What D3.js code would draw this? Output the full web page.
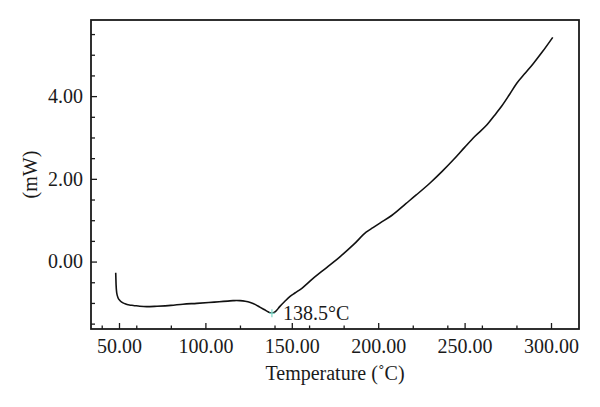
<!DOCTYPE html>
<html>
<head>
<meta charset="utf-8">
<script src="https://cdn.jsdelivr.net/npm/d3@7"></script>
<style>
  html, body { margin: 0; padding: 0; background: #fff; }
  svg text { font-family: "Liberation Serif", "Times New Roman", serif; fill: #1a1a1a; }
</style>
</head>
<body>
<svg id="chart" width="600" height="407"></svg>
<script>
// ---- data ----
const temperature = [48.1, 48.3, 48.7, 49.5, 50.5, 51.6, 53.5, 56, 58.3, 62, 66, 72, 80, 87, 95, 102, 108, 113, 116, 118, 120, 123, 126, 129, 131.5, 134, 136.5, 138.5, 140.5, 143, 146, 149, 151.8, 156, 162, 170, 178, 186, 193, 197, 201, 208, 216, 222, 230, 237, 243.5, 250, 256, 262.8, 268, 271.5, 276, 280.2, 285, 289.8, 295, 301];
const heatFlow    = [-0.27, -0.55, -0.76, -0.88, -0.94, -0.98, -1.02, -1.05, -1.06, -1.08, -1.09, -1.08, -1.06, -1.03, -1.01, -0.99, -0.97, -0.955, -0.945, -0.94, -0.945, -0.96, -0.99, -1.04, -1.10, -1.16, -1.22, -1.25, -1.21, -1.09, -0.96, -0.84, -0.76, -0.64, -0.42, -0.15, 0.12, 0.42, 0.71, 0.82, 0.93, 1.12, 1.40, 1.61, 1.90, 2.18, 2.46, 2.76, 3.03, 3.30, 3.57, 3.76, 4.04, 4.31, 4.55, 4.79, 5.07, 5.42];
const xMajorTicks = [50, 100, 150, 200, 250, 300];
const xMinorTicks = [40, 60, 80, 120, 140, 160, 180, 220, 240, 260, 280];
const yMajorTicks = [0, 2, 4];
const yMinorTicks = [-1.5, -1, -0.5, 0.5, 1, 1.5, 2.5, 3, 3.5, 4.5, 5, 5.5];
const peakT = 138.5, peakValue = -1.25;
const peakLabel = "138.5\u00B0C";
const xTitle = "Temperature (\u02DAC)";
const yTitle = "(mW)";

// ---- layout ----
const svg = d3.select("#chart");
const pLeft = 91, pTop = 20, pRight = 579, pBottom = 329;
const x = d3.scaleLinear().domain([33.8, 316.2]).range([pLeft, pRight]);
const y = d3.scaleLinear().domain([-1.63, 5.84]).range([pBottom, pTop]);
const fmt = d3.format(".2f");

// axes with inward ticks
const gx = svg.append("g").attr("transform", `translate(0,${pBottom})`);
gx.call(d3.axisBottom(x).tickValues(xMajorTicks).tickSizeInner(-6).tickSizeOuter(0).tickPadding(10).tickFormat(fmt));
const gxm = svg.append("g").attr("transform", `translate(0,${pBottom})`);
gxm.call(d3.axisBottom(x).tickValues(xMinorTicks).tickSizeInner(-3.5).tickSizeOuter(0).tickFormat(""));

const gy = svg.append("g").attr("transform", `translate(${pLeft},0)`);
gy.call(d3.axisLeft(y).tickValues(yMajorTicks).tickSizeInner(-6).tickSizeOuter(0).tickPadding(8).tickFormat(fmt));
const gym = svg.append("g").attr("transform", `translate(${pLeft},0)`);
gym.call(d3.axisLeft(y).tickValues(yMinorTicks).tickSizeInner(-4).tickSizeOuter(0).tickFormat(""));

svg.selectAll(".domain").remove();
svg.selectAll(".tick line").attr("stroke", "#1a1a1a").attr("stroke-width", 1.3);
svg.selectAll(".tick text").attr("font-size", 20).attr("font-family", "Liberation Serif, serif").attr("fill", "#1a1a1a");

// frame
svg.append("rect")
  .attr("x", pLeft).attr("y", pTop)
  .attr("width", pRight - pLeft).attr("height", pBottom - pTop)
  .attr("fill", "none").attr("stroke", "#1a1a1a").attr("stroke-width", 1.8);

// curve
const pts = temperature.map((t, i) => [t, heatFlow[i]]);
svg.append("path")
  .datum(pts)
  .attr("fill", "none")
  .attr("stroke", "#111")
  .attr("stroke-width", 1.6)
  .attr("d", d3.line().x(d => x(d[0])).y(d => y(d[1])).curve(d3.curveMonotoneX));

// peak marker (small cyan cross)
const px = x(peakT), py = y(peakValue);
svg.append("line").attr("x1", px).attr("x2", px).attr("y1", py - 4).attr("y2", py + 4)
  .attr("stroke", "#7fd8c8").attr("stroke-width", 1.2);
svg.append("line").attr("x1", px - 3).attr("x2", px + 3).attr("y1", py).attr("y2", py)
  .attr("stroke", "#7fd8c8").attr("stroke-width", 1.2);

svg.append("text")
  .attr("x", px + 11).attr("y", py + 7)
  .attr("font-size", 20)
  .text(peakLabel);

// titles
svg.append("text")
  .attr("x", (pLeft + pRight) / 2).attr("y", 380)
  .attr("text-anchor", "middle")
  .attr("font-size", 20)
  .text(xTitle);

svg.append("text")
  .attr("transform", `translate(37,${(pTop + pBottom) / 2}) rotate(-90)`)
  .attr("text-anchor", "middle")
  .attr("font-size", 20)
  .text(yTitle);
</script>
</body>
</html>
